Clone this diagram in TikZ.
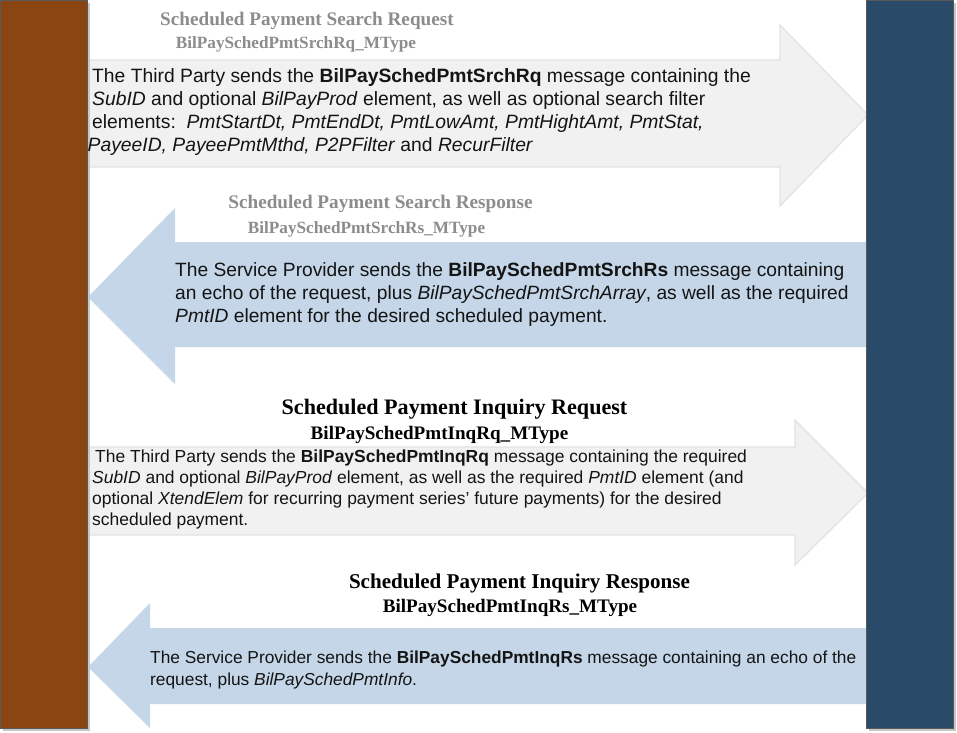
\documentclass[tikz,border=0pt]{standalone}
\usepackage{fontspec}
\setmainfont{Liberation Sans}
\newfontfamily\titlefont{Liberation Serif}
\definecolor{barbrown}{RGB}{139,69,19}
\definecolor{barblue}{RGB}{42,74,106}
\definecolor{arrgray}{RGB}{241,241,241}
\definecolor{arrgrayedge}{RGB}{226,226,226}
\definecolor{arrblue}{RGB}{196,214,231}
\definecolor{titlegray}{RGB}{140,140,140}
\definecolor{bodytext}{RGB}{20,20,20}
\begin{document}
\begin{tikzpicture}[x=1pt,y=-1pt,
  bar/.style={draw=black!65, line width=0.6pt},
  shadowbar/.style={fill=black!22, draw=none},
  reqarrow/.style={fill=arrgray, draw=arrgrayedge, line width=1.2pt, line join=miter},
  resarrow/.style={fill=arrblue, draw=none},
  ttl/.style={font=\titlefont\bfseries, anchor=base, inner sep=0pt},
  body/.style={anchor=base west, inner sep=0pt, align=left, text=bodytext}]
\useasboundingbox (0,0) rectangle (957,732);
\fill[white] (0,0) rectangle (957,732);

% arrows (behind the bars)
\draw[reqarrow] (88,60) -- (780,60) -- (780,25) -- (868,115) -- (780,206) -- (780,167) -- (88,167) -- cycle;
\fill[resarrow] (867,242) -- (175,242) -- (175,208) -- (88,297) -- (175,384) -- (175,347) -- (867,347) -- cycle;
\draw[reqarrow] (88,447) -- (795,447) -- (795,420) -- (868,493) -- (795,565) -- (795,535) -- (88,535) -- cycle;
\fill[resarrow] (866,628) -- (150,628) -- (150,603) -- (88,667) -- (150,728) -- (150,704) -- (866,704) -- cycle;

% bars
\fill[shadowbar] (3,3) rectangle (90,731);
\fill[shadowbar] (869,3) rectangle (956,731);
\node[bar, fill=barbrown, minimum width=87pt, minimum height=728pt, inner sep=0pt, anchor=north west] (thirdparty) at (0,0) {};
\node[bar, fill=barblue, minimum width=87pt, minimum height=728pt, inner sep=0pt, anchor=north west] (provider) at (866,0) {};

% message 1 (body nodes anchored at the baseline of their last line)
\node[ttl, text=titlegray, font=\titlefont\bfseries\fontsize{19.2}{22}\selectfont] (t1) at (307,25) {Scheduled Payment Search Request};
\node[ttl, text=titlegray, font=\titlefont\bfseries\fontsize{17.2}{20}\selectfont] (s1) at (296,48) {BilPaySchedPmtSrchRq\_MType};
\node[body, font=\fontsize{19.3}{23}\selectfont] (b1) at (92,151) {The Third Party sends the \textbf{BilPaySchedPmtSrchRq} message containing the\\
\textit{SubID} and optional \textit{BilPayProd} element, as well as optional search filter\\
elements:\ \ \textit{PmtStartDt, PmtEndDt, PmtLowAmt, PmtHightAmt, PmtStat,}\\
\hspace*{-4.5pt}\textit{PayeeID, PayeePmtMthd, P2PFilter} and \textit{RecurFilter}};

% message 2
\node[ttl, text=titlegray, font=\titlefont\bfseries\fontsize{19.2}{22}\selectfont] (t2) at (380.5,208) {Scheduled Payment Search Response};
\node[ttl, text=titlegray, font=\titlefont\bfseries\fontsize{17.2}{20}\selectfont] (s2) at (366.5,233) {BilPaySchedPmtSrchRs\_MType};
\node[body, font=\fontsize{19.2}{23}\selectfont] (b2) at (175,322) {The Service Provider sends the \textbf{BilPaySchedPmtSrchRs} message containing\\
an echo of the request, plus \textit{BilPaySchedPmtSrchArray}, as well as the required\\
\textit{PmtID} element for the desired scheduled payment.};

% message 3
\node[ttl, text=black, font=\titlefont\bfseries\fontsize{22.1}{25}\selectfont] (t3) at (454.5,414) {Scheduled Payment Inquiry Request};
\node[ttl, text=black, font=\titlefont\bfseries\fontsize{19.1}{22}\selectfont] (s3) at (439.5,439) {BilPaySchedPmtInqRq\_MType};
\node[body, font=\fontsize{17.45}{20.7}\selectfont] (b3) at (92,525) {\hspace*{3pt}The Third Party sends the \textbf{BilPaySchedPmtInqRq} message containing the required\\
\textit{SubID} and optional \textit{BilPayProd} element, as well as the required \textit{PmtID} element (and\\
optional \textit{XtendElem} for recurring payment series’ future payments) for the desired\\
scheduled payment.};

% message 4
\node[ttl, text=black, font=\titlefont\bfseries\fontsize{21.05}{24}\selectfont] (t4) at (519.5,588) {Scheduled Payment Inquiry Response};
\node[ttl, text=black, font=\titlefont\bfseries\fontsize{19.1}{22}\selectfont] (s4) at (510,612) {BilPaySchedPmtInqRs\_MType};
\node[body, font=\fontsize{17.33}{22.5}\selectfont] (b4) at (150,685.5) {The Service Provider sends the \textbf{BilPaySchedPmtInqRs} message containing an echo of the\\
request, plus \textit{BilPaySchedPmtInfo}.};
\end{tikzpicture}
\end{document}
